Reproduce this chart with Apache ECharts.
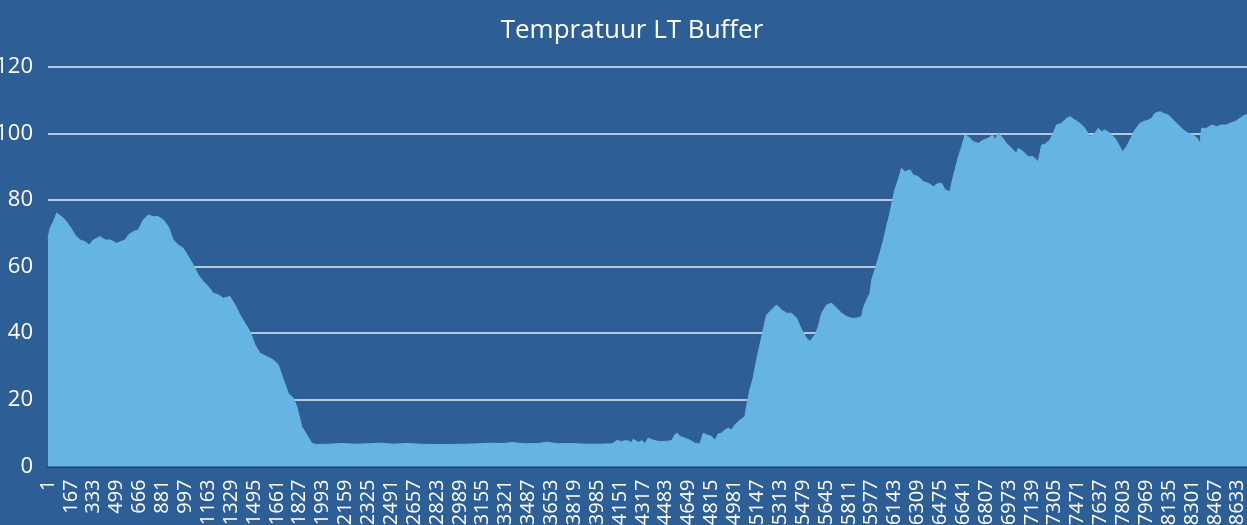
<!DOCTYPE html>
<html>
<head>
<meta charset="utf-8">
<script src="https://cdn.jsdelivr.net/npm/echarts@6/dist/echarts.min.js"></script>
<style>
  html, body { margin: 0; padding: 0; width: 1247px; height: 525px; overflow: hidden; background: #2e5e96; }
  #chart { position: absolute; left: -20px; top: 0; width: 1267px; height: 525px; }
</style>
</head>
<body>
<div id="chart"></div>
<script>
// Tick labels on the x axis (as shown)
const tickLabels = ['1','167','333','499','666','881','997','1163','1329','1495','1661','1827','1993','2159','2325','2491','2657','2823','2989','3155','3321','3487','3653','3819','3985','4151','4317','4483','4649','4815','4981','5147','5313','5479','5645','5811','5977','6143','6309','6475','6641','6807','6973','7139','7305','7471','7637','7803','7969','8135','8301','8467','8633'];

// Sample index (row number) of each reading
const sampleIdx = [1,16,28,40,64,76,100,124,161,197,233,269,301,330,378,415,451,499,560,584,620,656,692,729,765,801,838,874,910,946,983,1019,1055,1091,1128,1164,1200,1237,1273,1321,1358,1394,1430,1467,1503,1539,1588,1636,1672,1709,1745,1781,1806,1842,1878,1914,
1945,2047,2134,2228,2323,2410,2504,2606,2700,2809,2918,3026,3121,3208,3302,3368,3462,3556,3621,3701,3788,3897,4006,4093,
4129,4139,4163,4199,4236,4247,4284,4308,4332,4356,4392,4429,4465,4501,4526,4550,4566,4586,4622,4658,4695,4731,4755,4779,4815,4840,4864,4888,4912,4937,4961,4985,5009,5021,
5057,5069,5093,5117,5142,5166,5190,5214,5251,5287,5323,5360,5396,5432,5469,5505,5529,5565,5590,5614,5650,5687,5723,5759,5795,5832,5868,5904,5916,5940,5964,5977,6008,
6036,6060,6085,6109,6128,6145,6169,6194,6218,6254,6279,6315,6351,6388,6424,6460,6485,6509,6545,6557,6581,6606,6630,6654,6678,6715,6751,6787,6823,
6854,6871,6895,6919,6955,6992,7028,7040,7076,7113,7149,7185,7210,7234,7270,7294,7318,7355,7391,7415,7451,7488,7524,7560,7597,7621,7645,7669,7706,
7742,7778,7797,7826,7863,7887,7923,7947,7984,8008,8032,8069,8093,8129,8165,8202,8238,8274,8310,8339,8359,8371,8407,8444,8480,8516,8552,8576,8613,8649,8685,8700];

// Temperature readings (°C)
const temperature = [68.5,71.5,72,73.5,76,75.5,75,74,72,69.5,68,67.5,66.5,68,69,68,68,67,68,69.5,70.5,71,74,75.5,75,75,74,72,68,66.5,65.5,63,60.5,57.5,55.5,54,52,51.5,50.5,51,48.5,45.5,43,40.5,36.5,34,33,32,30.5,26,22,20.5,18,12,9.5,7,
6.6,6.7,6.9,6.7,6.8,7.0,6.7,6.9,6.7,6.6,6.6,6.7,6.8,7.0,6.9,7.2,6.8,6.9,7.3,6.8,6.9,6.7,6.7,6.8,
7.8,8.2,7.5,7.8,7.2,8.2,7.2,7.8,6.9,8.5,7.9,7.5,7.5,7.6,7.8,9.5,10,9,8.5,7.9,7,6.75,10,9.5,9,7.9,9.8,10,11,11.5,11,12.5,13.5,14,
15,18,23,26.5,32,36.5,41,45.5,47,48.5,47,46,46,44.5,41,38.5,37.5,39.5,42,46,48.5,49,47.5,46,45,44.5,44.5,45,47.5,50,52,56,60,
64,67.5,72,76,80,83,86,89.5,88.5,89,87.5,87,85.5,85,84,85,85,83,82.5,85,89,93,96,99.5,99,97.5,97,98,98.5,
99.5,98,100,99,97,95.5,94,95.5,94.5,93,93,91.5,96.5,96.7,98,100,102.5,103,104.5,105,104,103,101.5,99,100,101.5,100.5,101,100,
98.5,96,94.5,96,99,101,103,103.5,104,104.5,106,106.5,106,105.5,104,102.5,101,100,99.5,98.5,97,101.5,101.5,102.5,102,102.5,102.5,103,103.5,104.5,105.5,105.5];

// Y axis range
const yMin = 0, yMax = 120, yStep = 20;

const tickPos = tickLabels.map((_, i) => 1 + 166 * i);
const labelAt = {};
tickPos.forEach((p, i) => { labelAt[p] = tickLabels[i]; });
const seriesData = sampleIdx.map((x, i) => [x, temperature[i]]);

const FONT = "'Open Sans', 'Noto Sans', sans-serif";
const chart = echarts.init(document.getElementById('chart'), null, { renderer: 'canvas' });
chart.setOption({
  backgroundColor: '#2e5e96',
  animation: false,
  title: {
    text: 'Tempratuur LT Buffer',
    left: 647,
    top: 13,
    textAlign: 'center',
    textStyle: { color: '#ffffff', fontSize: 26, fontWeight: 'normal', fontFamily: FONT }
  },
  grid: { left: 68, right: 0, top: 66.7, bottom: 58.5, containLabel: false, outerBoundsMode: 'none' },
  xAxis: {
    type: 'value',
    min: 1,
    max: 8700,
    axisLine: { show: true, lineStyle: { color: '#1d3b66', width: 2 } },
    axisTick: { show: false },
    splitLine: { show: false },
    axisLabel: {
      customValues: tickPos,
      formatter: v => labelAt[v] !== undefined ? labelAt[v] : '',
      rotate: 90,
      margin: 13,
      color: '#ffffff',
      fontSize: 20,
      fontFamily: FONT
    }
  },
  yAxis: {
    type: 'value',
    min: yMin,
    max: yMax,
    interval: yStep,
    axisLine: { show: false },
    axisTick: { show: false },
    splitLine: { show: true, lineStyle: { color: '#e4eaf2', width: 1.5 } },
    axisLabel: { color: '#ffffff', fontSize: 22, margin: 15, fontFamily: FONT }
  },
  series: [{
    type: 'line',
    data: seriesData,
    symbol: 'none',
    showSymbol: false,
    sampling: null,
    lineStyle: { color: '#66b4e4', width: 1 },
    areaStyle: { color: '#66b4e4', opacity: 1 },
    z: 3
  }]
});
</script>
</body>
</html>
